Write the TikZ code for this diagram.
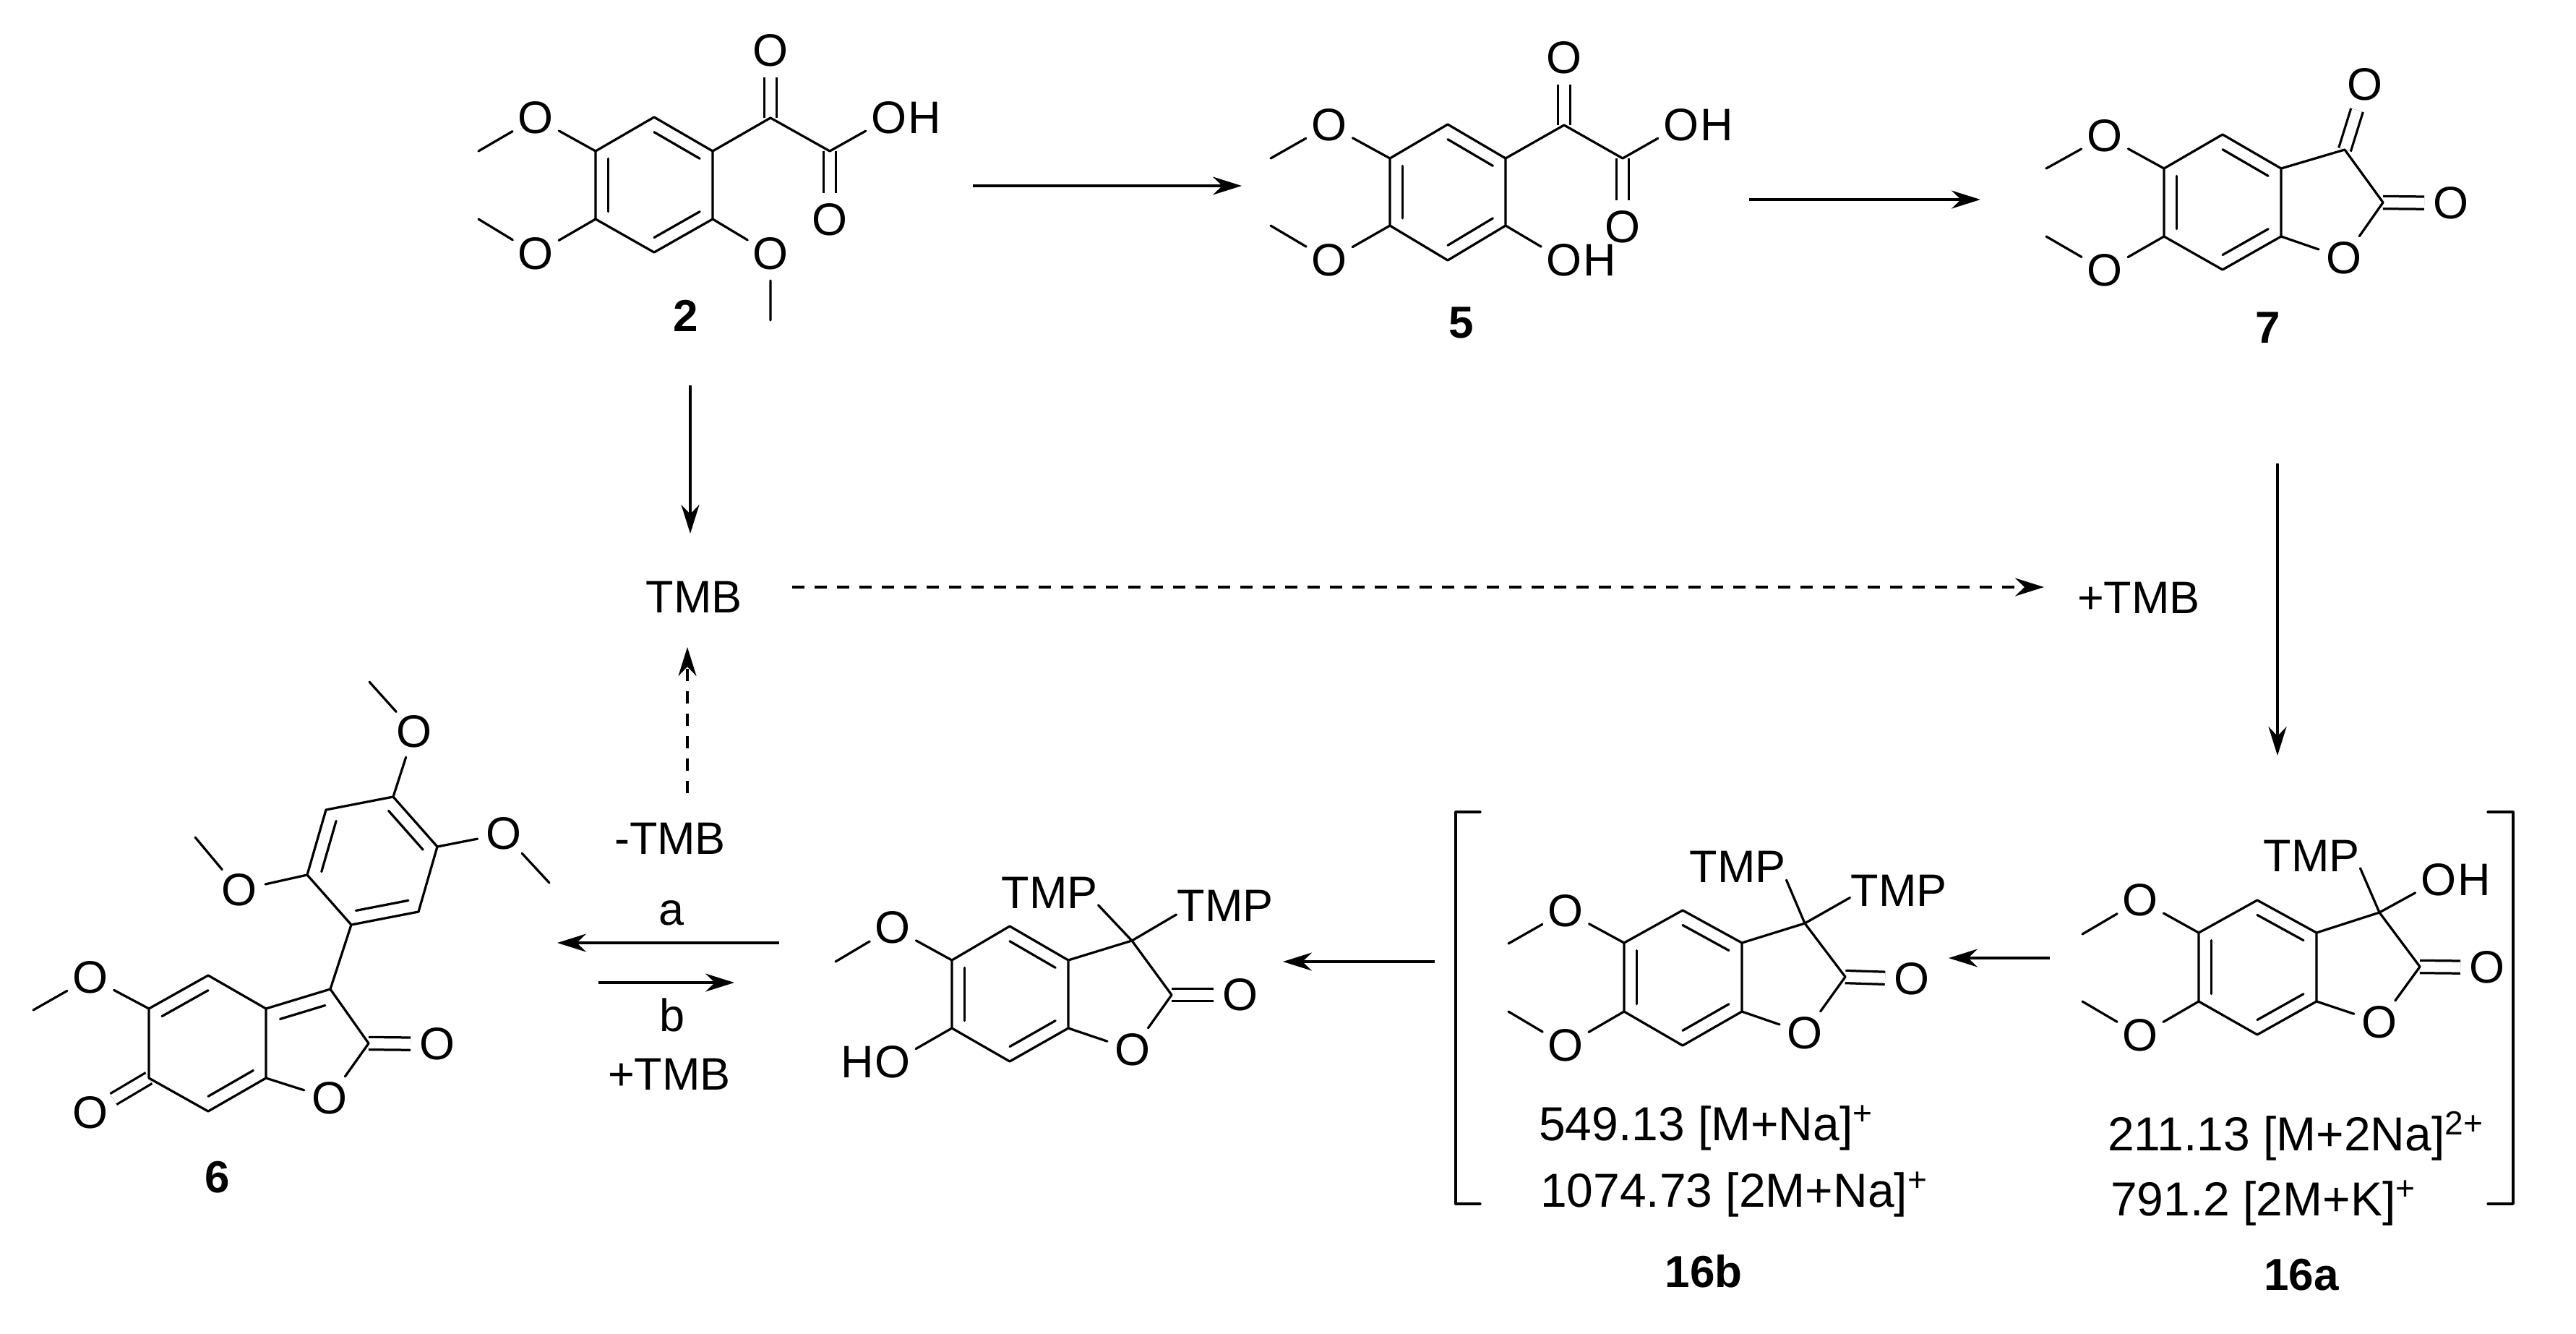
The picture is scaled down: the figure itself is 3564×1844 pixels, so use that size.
\documentclass[tikz,border=0pt]{standalone}
\usepackage{fontspec}
\setmainfont{Liberation Sans}
\usetikzlibrary{arrows.meta,calc,positioning}
\begin{document}
\begin{tikzpicture}[x=0.2pt,y=-0.2pt,
  bond/.style={line width=0.65pt,line cap=round,line join=round},
  dbond/.style={line width=0.65pt,double,double distance=2.8pt},
  atom/.style={circle,minimum size=14.4pt,inner sep=0pt,font=\fontsize{12.6}{15}\selectfont},
  atomh/.style={inner sep=0pt,font=\fontsize{12.6}{15}\selectfont},
  group/.style={inner sep=0pt,font=\fontsize{12.6}{15}\selectfont},
  cmpd/.style={inner sep=0pt,font=\fontsize{12.4}{15}\bfseries\selectfont},
  msdata/.style={inner sep=0pt,anchor=base west,font=\fontsize{13.2}{16}\selectfont},
  rxn/.style={line width=0.65pt,-{Stealth[length=8pt,width=5pt]}},
  rxndash/.style={rxn,dash pattern=on 3.4pt off 2.8pt}]
\useasboundingbox (0,0) rectangle (3564,1844);

%Compound 2
\coordinate (a1) at (905,162);
\coordinate (a2) at (986,209);
\coordinate (a3) at (986,303);
\coordinate (a4) at (905,349);
\coordinate (a5) at (824,303);
\coordinate (a6) at (824,209);
\coordinate (ac) at (905,256);
\coordinate (a7) at (1066,163);
\coordinate (a8) at (1148,209);
\coordinate (am1) at (662,209);
\coordinate (am2) at (662,303);
\coordinate (am3) at (1066,443);
\node[atom] (ao1) at (1066,70) {O};
\node[atom] (ao2) at (1148,304) {O};
\node[atom] (ao3) at (1230,163) {O};
\node[atomh,right=-2.4pt of ao3] (ah3) {H};
\node[atom] (ao4) at (741,163) {O};
\node[atom] (ao5) at (741,351) {O};
\node[atom] (ao6) at (1066,351) {O};
\draw[dbond] (a7) -- (ao1);
\draw[dbond] (a8) -- (ao2);
\draw[bond] (a1) -- (a2) -- (a3) -- (a4) -- (a5) -- (a6) -- cycle;
\draw[bond] ($(a1)!0.22!(ac)$) -- ($(a2)!0.22!(ac)$);
\draw[bond] ($(a3)!0.22!(ac)$) -- ($(a4)!0.22!(ac)$);
\draw[bond] ($(a5)!0.22!(ac)$) -- ($(a6)!0.22!(ac)$);
\draw[bond] (a2) -- (a7) -- (a8) -- (ao3);
\draw[bond] (a6) -- (ao4) -- (am1);
\draw[bond] (a5) -- (ao5) -- (am2);
\draw[bond] (a3) -- (ao6) -- (am3);
\node[cmpd] (lab2) at (949,437) {2};

%Compound 5
\coordinate (b1) at (2003,172);
\coordinate (b2) at (2083,219);
\coordinate (b3) at (2083,312);
\coordinate (b4) at (2003,360);
\coordinate (b5) at (1923,312);
\coordinate (b6) at (1923,219);
\coordinate (bc) at (2003,266);
\coordinate (b7) at (2164,173);
\coordinate (b8) at (2245,219);
\coordinate (bm1) at (1758,219);
\coordinate (bm2) at (1758,312);
\node[atom] (bo1) at (2164,80) {O};
\node[atom] (bo2) at (2245,314) {O};
\node[atom] (bo3) at (2326,173) {O};
\node[atomh,right=-2.4pt of bo3] (bh3) {H};
\node[atom] (bo4) at (1839,173) {O};
\node[atom] (bo5) at (1839,360) {O};
\node[atom] (bo6) at (2164,360) {O};
\node[atomh,right=-2.4pt of bo6] (bh6) {H};
\draw[dbond] (b7) -- (bo1);
\draw[dbond] (b8) -- (bo2);
\draw[bond] (b1) -- (b2) -- (b3) -- (b4) -- (b5) -- (b6) -- cycle;
\draw[bond] ($(b1)!0.22!(bc)$) -- ($(b2)!0.22!(bc)$);
\draw[bond] ($(b3)!0.22!(bc)$) -- ($(b4)!0.22!(bc)$);
\draw[bond] ($(b5)!0.22!(bc)$) -- ($(b6)!0.22!(bc)$);
\draw[bond] (b2) -- (b7) -- (b8) -- (bo3);
\draw[bond] (b6) -- (bo4) -- (bm1);
\draw[bond] (b5) -- (bo5) -- (bm2);
\draw[bond] (b3) -- (bo6);
\node[cmpd] (lab5) at (2022,446) {5};

%Compound 7
\coordinate (c1) at (3075,186);
\coordinate (c2) at (3156,233);
\coordinate (c3) at (3156,327);
\coordinate (c4) at (3075,373);
\coordinate (c5) at (2994,327);
\coordinate (c6) at (2994,233);
\coordinate (cc) at (3075,280);
\coordinate (c7) at (3244,207);
\coordinate (c8) at (3297,280);
\coordinate (cm1) at (2831,233);
\coordinate (cm2) at (2831,327);
\node[atom] (co1) at (3272,117) {O};
\node[atom] (co2) at (3391,281) {O};
\node[atom] (co3) at (3243,357) {O};
\node[atom] (co4) at (2912,188) {O};
\node[atom] (co5) at (2912,374) {O};
\draw[dbond] (c7) -- (co1);
\draw[dbond] (c8) -- (co2);
\draw[bond] (c1) -- (c2) -- (c3) -- (c4) -- (c5) -- (c6) -- cycle;
\draw[bond] ($(c1)!0.22!(cc)$) -- ($(c2)!0.22!(cc)$);
\draw[bond] ($(c3)!0.22!(cc)$) -- ($(c4)!0.22!(cc)$);
\draw[bond] ($(c5)!0.22!(cc)$) -- ($(c6)!0.22!(cc)$);
\draw[bond] (c2) -- (c7) -- (c8) -- (co3) -- (c3);
\draw[bond] (c6) -- (co4) -- (cm1);
\draw[bond] (c5) -- (co5) -- (cm2);
\node[cmpd] (lab7) at (3138,453) {7};

%Compound 6
\coordinate (d1) at (288,1349);
\coordinate (d2) at (368,1395);
\coordinate (d3) at (368,1491);
\coordinate (d4) at (288,1537);
\coordinate (d5) at (206,1491);
\coordinate (d6) at (206,1395);
\coordinate (dc) at (288,1443);
\coordinate (d7) at (457,1368);
\coordinate (d8) at (510,1443);
\coordinate (dcf) at (433,1443);
\coordinate (dp1) at (486,1279);
\coordinate (dp2) at (579,1261);
\coordinate (dp3) at (605,1171);
\coordinate (dp4) at (544,1102);
\coordinate (dp5) at (451,1120);
\coordinate (dp6) at (425,1210);
\coordinate (dpc) at (515,1190);
\coordinate (dm1) at (46,1397);
\coordinate (dm2) at (270,1158);
\coordinate (dm3) at (511,943);
\coordinate (dm4) at (760,1221);
\node[atom] (do1) at (605,1444) {O};
\node[atom] (do2) at (456,1519) {O};
\node[atom] (do3) at (125,1352) {O};
\node[atom] (do4) at (125,1539) {O};
\node[atom] (do5) at (331,1231) {O};
\node[atom] (do6) at (573,1012) {O};
\node[atom] (do7) at (697,1153) {O};
\draw[dbond] (d8) -- (do1);
\draw[dbond] (d5) -- (do4);
\draw[bond] (d1) -- (d2) -- (d3) -- (d4) -- (d5) -- (d6) -- cycle;
\draw[bond] ($(d6)!0.22!(dc)$) -- ($(d1)!0.22!(dc)$);
\draw[bond] ($(d3)!0.22!(dc)$) -- ($(d4)!0.22!(dc)$);
\draw[bond] (d2) -- (d7) -- (d8) -- (do2) -- (d3);
\draw[bond] ($(d2)!0.3!(dcf)$) -- ($(d7)!0.3!(dcf)$);
\draw[bond] (d6) -- (do3) -- (dm1);
\draw[bond] (d7) -- (dp1);
\draw[bond] (dp1) -- (dp2) -- (dp3) -- (dp4) -- (dp5) -- (dp6) -- cycle;
\draw[bond] ($(dp1)!0.22!(dpc)$) -- ($(dp2)!0.22!(dpc)$);
\draw[bond] ($(dp3)!0.22!(dpc)$) -- ($(dp4)!0.22!(dpc)$);
\draw[bond] ($(dp5)!0.22!(dpc)$) -- ($(dp6)!0.22!(dpc)$);
\draw[bond] (dp6) -- (do5) -- (dm2);
\draw[bond] (dp4) -- (do6) -- (dm3);
\draw[bond] (dp3) -- (do7) -- (dm4);
\node[cmpd] (lab6) at (301,1628) {6};

%Bis-TMP phenol
\coordinate (e1) at (1397,1281);
\coordinate (e2) at (1478,1328);
\coordinate (e3) at (1478,1422);
\coordinate (e4) at (1397,1468);
\coordinate (e5) at (1317,1422);
\coordinate (e6) at (1317,1328);
\coordinate (ec) at (1397,1375);
\coordinate (e7) at (1566,1301);
\coordinate (e8) at (1621,1376);
\coordinate (em1) at (1156,1330);
\node[atom] (eo1) at (1716,1376) {O};
\node[atom] (eo2) at (1567,1452) {O};
\node[atom] (eo3) at (1235,1283) {O};
\node[atom] (eo4) at (1235,1469) {O};
\node[atomh,left=-2.4pt of eo4] (eh4) {H};
\node[group] (etmp1) at (1452,1235) {TMP};
\node[group] (etmp2) at (1695,1253) {TMP};
\draw[dbond] (e8) -- (eo1);
\draw[bond] (e1) -- (e2) -- (e3) -- (e4) -- (e5) -- (e6) -- cycle;
\draw[bond] ($(e1)!0.22!(ec)$) -- ($(e2)!0.22!(ec)$);
\draw[bond] ($(e3)!0.22!(ec)$) -- ($(e4)!0.22!(ec)$);
\draw[bond] ($(e5)!0.22!(ec)$) -- ($(e6)!0.22!(ec)$);
\draw[bond] (e2) -- (e7) -- (e8) -- (eo2) -- (e3);
\draw[bond] (e6) -- (eo3) -- (em1);
\draw[bond] (e5) -- (eo4);
\draw[bond] (e7) -- (etmp1.-14);
\draw[bond] (e7) -- (etmp2.190);

%Compound 16b
\coordinate (f1) at (2328,1259);
\coordinate (f2) at (2410,1304);
\coordinate (f3) at (2410,1399);
\coordinate (f4) at (2328,1446);
\coordinate (f5) at (2247,1399);
\coordinate (f6) at (2247,1304);
\coordinate (fc) at (2328,1352);
\coordinate (f7) at (2497,1277);
\coordinate (f8) at (2553,1351);
\coordinate (fm1) at (2087,1305);
\coordinate (fm2) at (2087,1399);
\node[atom] (fo1) at (2645,1354) {O};
\node[atom] (fo2) at (2497,1429) {O};
\node[atom] (fo3) at (2166,1260) {O};
\node[atom] (fo4) at (2166,1446) {O};
\node[group] (ftmp1) at (2404,1199) {TMP};
\node[group] (ftmp2) at (2627,1232) {TMP};
\draw[dbond] (f8) -- (fo1);
\draw[bond] (f1) -- (f2) -- (f3) -- (f4) -- (f5) -- (f6) -- cycle;
\draw[bond] ($(f1)!0.22!(fc)$) -- ($(f2)!0.22!(fc)$);
\draw[bond] ($(f3)!0.22!(fc)$) -- ($(f4)!0.22!(fc)$);
\draw[bond] ($(f5)!0.22!(fc)$) -- ($(f6)!0.22!(fc)$);
\draw[bond] (f2) -- (f7) -- (f8) -- (fo2) -- (f3);
\draw[bond] (f6) -- (fo3) -- (fm1);
\draw[bond] (f5) -- (fo4) -- (fm2);
\draw[bond] (f7) -- (ftmp1.-15);
\draw[bond] (f7) -- (ftmp2.188);
\node[msdata] (fms1) at (2128,1577) {549.13 [M+Na]\textsuperscript{+}};
\node[msdata] (fms2) at (2130,1669) {1074.73 [2M+Na]\textsuperscript{+}};
\node[cmpd] (lab16b) at (2357,1758) {16b};

%Compound 16a
\coordinate (g1) at (3123,1245);
\coordinate (g2) at (3205,1290);
\coordinate (g3) at (3205,1385);
\coordinate (g4) at (3123,1431);
\coordinate (g5) at (3042,1385);
\coordinate (g6) at (3042,1290);
\coordinate (gc) at (3123,1338);
\coordinate (g7) at (3292,1262);
\coordinate (g8) at (3348,1337);
\coordinate (gm1) at (2881,1292);
\coordinate (gm2) at (2881,1385);
\node[atom] (go1) at (3441,1338) {O};
\node[atom] (go2) at (3292,1414) {O};
\node[atom] (go3) at (2961,1245) {O};
\node[atom] (go4) at (2961,1432) {O};
\node[atom] (go5) at (3374,1217) {O};
\node[atomh,right=-2.4pt of go5] (gh5) {H};
\node[group] (gtmp) at (3198,1184) {TMP};
\draw[dbond] (g8) -- (go1);
\draw[bond] (g1) -- (g2) -- (g3) -- (g4) -- (g5) -- (g6) -- cycle;
\draw[bond] ($(g1)!0.22!(gc)$) -- ($(g2)!0.22!(gc)$);
\draw[bond] ($(g3)!0.22!(gc)$) -- ($(g4)!0.22!(gc)$);
\draw[bond] ($(g5)!0.22!(gc)$) -- ($(g6)!0.22!(gc)$);
\draw[bond] (g2) -- (g7) -- (g8) -- (go2) -- (g3);
\draw[bond] (g6) -- (go3) -- (gm1);
\draw[bond] (g5) -- (go4) -- (gm2);
\draw[bond] (g7) -- (gtmp.-14);
\draw[bond] (g7) -- (go5);
\node[msdata] (gms1) at (2915,1591) {211.13 [M+2Na]\textsuperscript{2+}};
\node[msdata] (gms2) at (2919,1681) {791.2 [2M+K]\textsuperscript{+}};
\node[cmpd] (lab16a) at (3184,1763) {16a};

%Brackets
\coordinate (bl1) at (2048,1123);
\coordinate (bl2) at (2014,1123);
\coordinate (bl3) at (2014,1665);
\coordinate (bl4) at (2048,1665);
\coordinate (br1) at (3442,1123);
\coordinate (br2) at (3477,1123);
\coordinate (br3) at (3477,1665);
\coordinate (br4) at (3442,1665);
\draw[bond] (bl1) -- (bl2) -- (bl3) -- (bl4);
\draw[bond] (br1) -- (br2) -- (br3) -- (br4);

% Text Node
\node[group] (tmb) at (960,826) {TMB};
% Text Node
\node[group] (ptmb) at (2959,827) {+TMB};
% Text Node
\node[group] (mtmb) at (927,1160) {-TMB};
% Text Node
\node[group] (laba) at (929,1263) {a};
% Text Node
\node[group] (labb) at (930,1404) {b};
% Text Node
\node[group] (ptmb2) at (926,1486) {+TMB};

%Arrows
\coordinate (s25) at (1346,257);
\coordinate (t25) at (1718,257);
\coordinate (s57) at (2420,276);
\coordinate (t57) at (2740,276);
\coordinate (s2t) at (955,533);
\coordinate (t2t) at (955,738);
\coordinate (stt) at (1096,812);
\coordinate (ttt) at (2828,812);
\coordinate (s7g) at (3151,641);
\coordinate (t7g) at (3151,1045);
\coordinate (smt) at (951,1097);
\coordinate (tmt) at (951,895);
\coordinate (sa) at (1078,1304);
\coordinate (ta) at (771,1304);
\coordinate (sb) at (828,1359);
\coordinate (tb) at (1016,1359);
\coordinate (sfe) at (1985,1330);
\coordinate (tfe) at (1775,1330);
\coordinate (sgf) at (2836,1325);
\coordinate (tgf) at (2696,1325);
\draw[rxn] (s25) -- (t25);
\draw[rxn] (s57) -- (t57);
\draw[rxn] (s2t) -- (t2t);
\draw[rxndash] (stt) -- (ttt);
\draw[rxn] (s7g) -- (t7g);
\draw[rxndash] (smt) -- (tmt);
\draw[rxn] (sa) -- (ta);
\draw[rxn] (sb) -- (tb);
\draw[rxn] (sfe) -- (tfe);
\draw[rxn] (sgf) -- (tgf);

\end{tikzpicture}
\end{document}
